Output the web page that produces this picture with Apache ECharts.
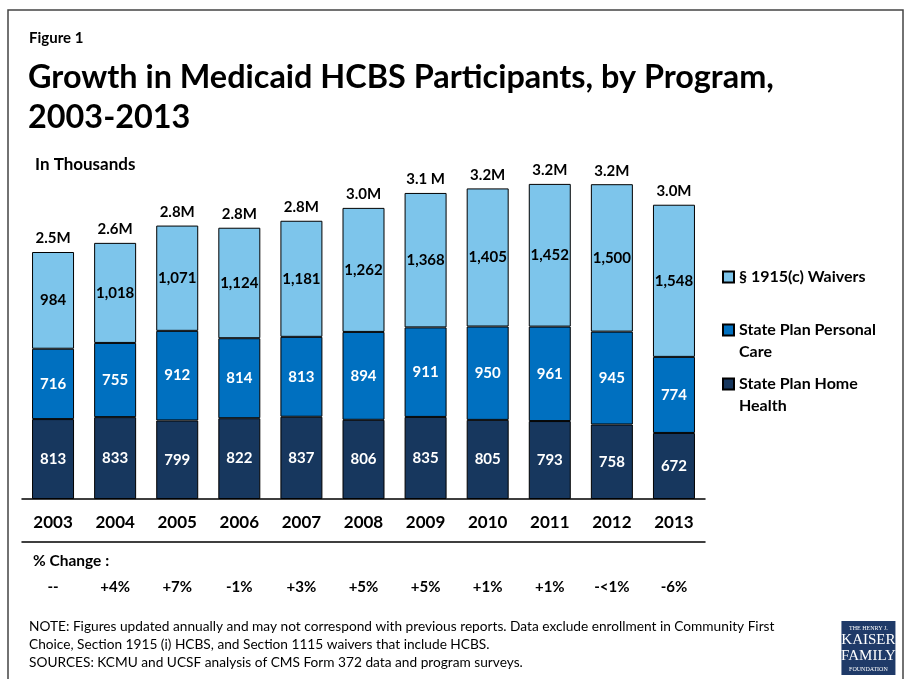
<!DOCTYPE html>
<html>
<head>
<meta charset="utf-8">
<script src="https://cdn.jsdelivr.net/npm/echarts@6/dist/echarts.min.js"></script>
<style>
html,body{margin:0;padding:0;background:#fff;}
#chart{width:908px;height:679px;}
</style>
</head>
<body>
<div id="chart"></div>
<script>
const years = ['2003','2004','2005','2006','2007','2008','2009','2010','2011','2012','2013'];
const homeHealth = [813,833,799,822,837,806,835,805,793,758,672];
const personalCare = [716,755,912,814,813,894,911,950,961,945,774];
const waivers = [984,1018,1071,1124,1181,1262,1368,1405,1452,1500,1548];
const totalLabels = ['2.5M','2.6M','2.8M','2.8M','2.8M','3.0M','3.1 M','3.2M','3.2M','3.2M','3.0M'];
const pctChange = ['--','+4%','+7%','-1%','+3%','+5%','+5%','+1%','+1%','-<1%','-6%'];

const FONT = 'Lato';
const C_LIGHT = '#7DC5EB', C_MID = '#0070C0', C_DARK = '#17375E';

const chart = echarts.init(document.getElementById('chart'), null, {renderer:'canvas'});

function fmtNum(v){ return v.toLocaleString('en-US'); }

const segLabel = (color) => ({
  show: true, position: 'inside', color: color,
  fontFamily: FONT, fontWeight: 'bold', fontSize: 15,
  formatter: p => fmtNum(p.value)
});

const legendBase = {
  orient: 'vertical', left: 722, padding: 0,
  itemWidth: 11, itemHeight: 11, icon: 'rect',
  selectedMode: false,
  textStyle: {fontFamily: FONT, fontWeight: 'bold', fontSize: 16, color: '#000', lineHeight: 22}
};

const option = {
  backgroundColor: '#fff',
  animation: false,
  title: [
    {text: 'Figure 1', left: 29, top: 31, padding: 0, textStyle: {fontFamily: FONT, fontWeight: 'bold', fontSize: 15, color: '#000'}},
    {text: 'Growth in Medicaid HCBS Participants, by Program,\n2003-2013', left: 28, top: 58, padding: 0,
     textStyle: {fontFamily: FONT, fontWeight: 'bold', fontSize: 32.4, color: '#000', lineHeight: 40}},
    {text: 'In Thousands', left: 35, top: 156, padding: 0, textStyle: {fontFamily: FONT, fontWeight: 'bold', fontSize: 17, color: '#000'}},
    {text: '% Change :', left: 33, top: 553, padding: 0, textStyle: {fontFamily: FONT, fontWeight: 'bold', fontSize: 15.5, color: '#000'}},
    {text: 'NOTE: Figures updated annually and may not correspond with previous reports. Data exclude enrollment in Community First\nChoice, Section 1915 (i) HCBS, and Section 1115 waivers that include HCBS.\nSOURCES: KCMU and UCSF analysis of CMS Form 372 data and program surveys.',
     left: 29, top: 618, padding: 0, textStyle: {fontFamily: FONT, fontWeight: 'normal', fontSize: 13.7, color: '#000', lineHeight: 18}}
  ],
  legend: [
    Object.assign({}, legendBase, {top: 266, data: ['§ 1915(c) Waivers']}),
    Object.assign({}, legendBase, {top: 297, data: ['State Plan Personal Care'],
      formatter: () => ' \nState Plan Personal\nCare'}),
    Object.assign({}, legendBase, {top: 351, data: ['State Plan Home Health'],
      formatter: () => ' \nState Plan Home\nHealth'})
  ],
  grid: {left: 22, right: 203, top: 155, bottom: 180, containLabel: false},
  xAxis: [
    {type: 'category', data: years, position: 'bottom',
     axisLine: {show: true, lineStyle: {color: '#000', width: 1.5}},
     axisTick: {show: false},
     axisLabel: {margin: 15, color: '#000', fontFamily: FONT, fontWeight: 'bold', fontSize: 17}},
    {type: 'category', data: pctChange, position: 'bottom', offset: 43,
     axisLine: {show: true, lineStyle: {color: '#000', width: 1.5}},
     axisTick: {show: false},
     axisLabel: {margin: 38, color: '#000', fontFamily: FONT, fontWeight: 'bold', fontSize: 15}}
  ],
  yAxis: {type: 'value', min: 0, max: 3500, show: false, splitLine: {show: false}},
  series: [
    {name: 'State Plan Home Health', type: 'bar', stack: 'total', data: homeHealth, barWidth: 42,
     itemStyle: {color: C_DARK, borderColor: '#000', borderWidth: 1}, label: segLabel('#fff')},
    {name: 'State Plan Personal Care', type: 'bar', stack: 'total', data: personalCare, barWidth: 42,
     itemStyle: {color: C_MID, borderColor: '#000', borderWidth: 1}, label: segLabel('#fff')},
    {name: '§ 1915(c) Waivers', type: 'bar', stack: 'total', data: waivers, barWidth: 42,
     itemStyle: {color: C_LIGHT, borderColor: '#000', borderWidth: 1}, label: segLabel('#000')},
    {name: 'totals', type: 'bar', stack: 'total', data: years.map(() => 0), barWidth: 42,
     itemStyle: {color: 'transparent', borderWidth: 0},
     label: {show: true, position: 'top', distance: 6, color: '#000', fontFamily: FONT, fontWeight: 'bold', fontSize: 15,
       formatter: p => totalLabels[p.dataIndex]}}
  ],
  graphic: [
    {type: 'rect', shape: {x: 8, y: 10, width: 895, height: 700}, style: {fill: 'none', stroke: '#444', lineWidth: 1.5}, silent: true},
    {type: 'group', left: 841, top: 621, children: [
      {type: 'rect', shape: {x: 0, y: 0, width: 54, height: 54}, style: {fill: '#1F3A68'}},
      {type: 'text', x: 27, y: 4, style: {text: 'THE HENRY J.', fill: '#fff', font: '6px "Liberation Serif"', align: 'center'}},
      {type: 'text', x: 27, y: 12, style: {text: 'KAISER', fill: '#fff', font: '15px "Liberation Serif"', align: 'center'}},
      {type: 'text', x: 27, y: 28, style: {text: 'FAMILY', fill: '#fff', font: '15px "Liberation Serif"', align: 'center'}},
      {type: 'text', x: 27, y: 45, style: {text: 'FOUNDATION', fill: '#fff', font: '6px "Liberation Serif"', align: 'center'}}
    ]}
  ]
};
chart.setOption(option);
</script>
</body>
</html>
